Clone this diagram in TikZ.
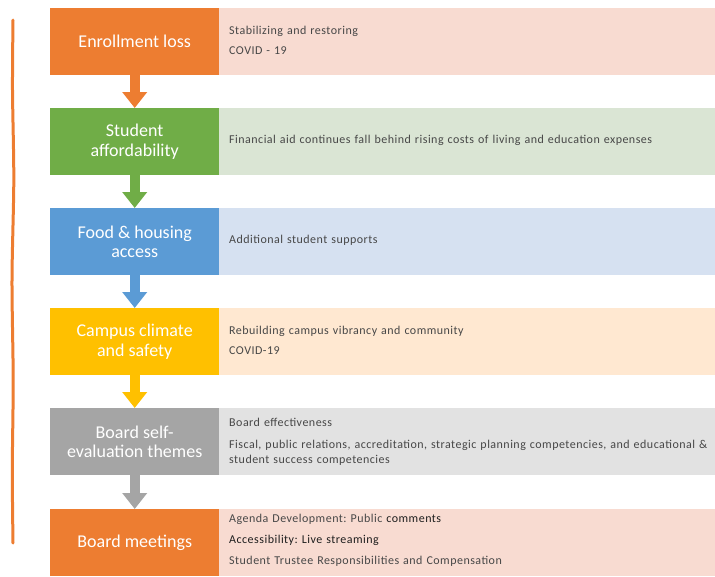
\documentclass[tikz,border=0pt]{standalone}
\usepackage{fontspec}
\setmainfont{Carlito}
\newfontfamily\descfont[LetterSpace=4]{Carlito}
\usetikzlibrary{arrows.meta}
\frenchspacing
\definecolor{cOr}{HTML}{ED7D31}
\definecolor{cGr}{HTML}{70AD47}
\definecolor{cBl}{HTML}{5B9BD5}
\definecolor{cYe}{HTML}{FFC000}
\definecolor{cGy}{HTML}{A5A5A5}
\definecolor{lOr}{HTML}{F8DBD1}
\definecolor{lGr}{HTML}{DAE5D4}
\definecolor{lBl}{HTML}{D6E1F1}
\definecolor{lYe}{HTML}{FFE8D1}
\definecolor{lGy}{HTML}{E2E2E2}
\definecolor{txtgray}{HTML}{474747}
\definecolor{txtdark}{HTML}{1E1E1E}
\begin{document}
\begin{tikzpicture}[x=1pt,y=1pt,
  leftbox/.style={rectangle, minimum width=169pt, minimum height=67pt, inner sep=0pt, anchor=north west, text=white, font=\fontsize{18}{19.5}\selectfont, align=center},
  rightbox/.style={rectangle, minimum width=496pt, minimum height=67pt, inner sep=0pt, anchor=north west},
  desc/.style={anchor=west, align=left, text=txtgray, font=\descfont\fontsize{12}{15}\selectfont, inner sep=0pt, text width=486pt},
  flow/.style={line width=10pt, -{Triangle[width=24pt,length=16pt]}}]
\useasboundingbox (0,0) rectangle (715,-576);

% right panels
\node[rightbox, fill=lOr] (r1) at (219,-8) {};
\node[rightbox, fill=lGr] (r2) at (219,-108) {};
\node[rightbox, fill=lBl] (r3) at (219,-208) {};
\node[rightbox, fill=lYe] (r4) at (219,-308) {};
\node[rightbox, fill=lGy] (r5) at (219,-408) {};
\node[rightbox, fill=lOr] (r6) at (219,-509) {};

% left boxes
\node[leftbox, fill=cOr] (b1) at (50,-8) {Enrollment loss};
\node[leftbox, fill=cGr] (b2) at (50,-108) {Student\\affordability};
\node[leftbox, fill=cBl] (b3) at (50,-208) {Food \& housing\\access};
\node[leftbox, fill=cYe] (b4) at (50,-308) {Campus climate\\and safety};
\node[leftbox, fill=cGy] (b5) at (50,-408) {Board self-\\evaluation themes};
\node[leftbox, fill=cOr] (b6) at (50,-509) {Board meetings};

% descriptions
\node[desc] (t1) at ([xshift=10pt,yshift=1pt]r1.west) {Stabilizing and restoring\\[5pt]COVID - 19};
\node[desc] (t2) at ([xshift=10pt,yshift=1pt]r2.west) {Financial aid continues fall behind rising costs of living and education expenses};
\node[desc] (t3) at ([xshift=10pt,yshift=1pt]r3.west) {Additional student supports};
\node[desc] (t4) at ([xshift=10pt,yshift=1pt]r4.west) {Rebuilding campus vibrancy and community\\[5pt]COVID-19};
\node[desc] (t5) at ([xshift=10pt,yshift=0pt]r5.west) {Board effectiveness\\[7pt]Fiscal, public relations, accreditation, strategic planning competencies, and educational \&\\student success competencies};
\node[desc] (t6) at ([xshift=10pt,yshift=2pt]r6.west) {Agenda Development: Public {\color{txtdark}comments}\\[6pt]{\color{txtdark}Accessibility: Live streaming}\\[6pt]Student Trustee Responsibilities and Compensation};

% arrows
\draw[flow, cOr] (b1.south) -- (b2.north);
\draw[flow, cGr] (b2.south) -- (b3.north);
\draw[flow, cBl] (b3.south) -- (b4.north);
\draw[flow, cYe] (b4.south) -- (b5.north);
\draw[flow, cGy] (b5.south) -- (b6.north);

% bracket
\draw[cOr, line width=3pt, line cap=round] plot[smooth] coordinates {(13,-20) (12.5,-90) (13.8,-180) (12,-280) (13.2,-380) (12.3,-470) (13,-543)};
\end{tikzpicture}
\end{document}
